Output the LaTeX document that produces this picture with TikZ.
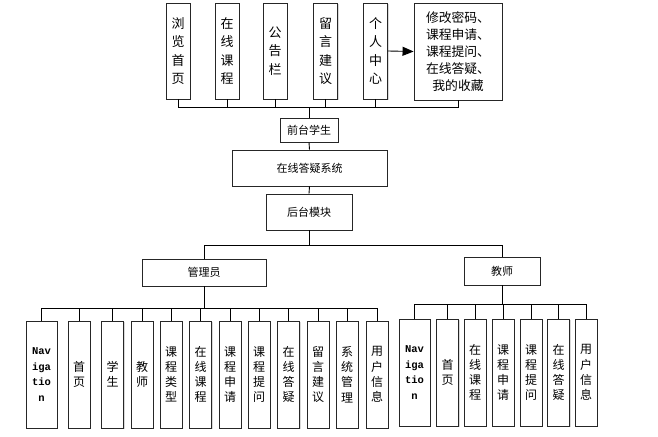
\documentclass[tikz,border=0pt]{standalone}
\usepackage{fontspec}
\setmainfont{Noto Sans CJK SC}
\newfontfamily\navfont{Liberation Mono}
\usetikzlibrary{arrows.meta,shadows}

\begin{document}
\begin{tikzpicture}[x=1pt,y=-1pt,
    box/.style={draw=black!85,line width=0.9pt,fill=white,inner sep=0pt,align=center,
        drop shadow={shadow xshift=1pt,shadow yshift=-1pt,fill=black!25,opacity=0.6}},
    topbox/.style={box,minimum width=24pt,minimum height=96pt,font=\fontsize{13}{18.5}\selectfont},
    midbox/.style={box,font=\fontsize{11}{12}\selectfont},
    leafbox/.style={box,minimum width=22pt,minimum height=107pt,font=\fontsize{12}{15.2}\selectfont},
    navbox/.style={leafbox,minimum width=31pt,font=\navfont\bfseries\fontsize{10.5}{15.5}\selectfont},
    link/.style={line width=0.9pt,black}]

    \useasboundingbox (0,0) rectangle (658,436);

    \node[topbox] (liulan) at (178,51) {浏\\览\\首\\页};
    \node[topbox] (zaixian) at (227,51) {在\\线\\课\\程};
    \node[topbox] (gonggao) at (275,51) {公\\告\\栏};
    \node[topbox] (liuyan) at (325.5,51) {留\\言\\建\\议};
    \node[topbox] (geren) at (375.5,51) {个\\人\\中\\心};
    \node[box,minimum width=88pt,minimum height=97pt,font=\fontsize{12.8}{17}\selectfont] (gerenlist) at (458,51.5)
        {修改密码、\\课程申请、\\课程提问、\\在线答疑、\\我的收藏};
    \draw[link,-{Triangle[length=11pt,width=9pt]}] (geren.east) -- (gerenlist.west);

    \node[midbox,minimum width=58pt,minimum height=24pt] (qiantai) at (309,130) {前台学生};
    \node[midbox,minimum width=155pt,minimum height=36pt] (xitong) at (309.5,168) {在线答疑系统};
    \node[midbox,minimum width=86pt,minimum height=36pt] (houtai) at (309,212) {后台模块};

    \coordinate (topbus) at (309,107);
    \foreach \n in {liulan,zaixian,gonggao,liuyan,geren,gerenlist}
        \draw[link] (\n.south) |- (topbus);
    \draw[link] (topbus) -- (qiantai.north);
    \draw[link] (qiantai.south) -- (xitong.north);
    \draw[link] (xitong.south) -- (houtai.north);

    \node[midbox,minimum width=124pt,minimum height=27pt] (admin) at (204,272.5) {管理员};
    \node[midbox,minimum width=76pt,minimum height=28pt] (teacher) at (502,271) {教师};

    \coordinate (midbus) at (309,245);
    \draw[link] (houtai.south) -- (midbus);
    \draw[link] (midbus) -| (admin.north);
    \draw[link] (midbus) -| (teacher.north);

    \node[navbox] (a1) at (41.5,374.5) {Nav\\iga\\tio\\n};
    \node[leafbox] (a2) at (79,374.5) {首\\页};
    \node[leafbox] (a3) at (112.5,374.5) {学\\生};
    \node[leafbox] (a4) at (142,374.5) {教\\师};
    \node[leafbox] (a5) at (171,374.5) {课\\程\\类\\型};
    \node[leafbox] (a6) at (200.5,374.5) {在\\线\\课\\程};
    \node[leafbox] (a7) at (230,374.5) {课\\程\\申\\请};
    \node[leafbox] (a8) at (259,374.5) {课\\程\\提\\问};
    \node[leafbox] (a9) at (288.5,374.5) {在\\线\\答\\疑};
    \node[leafbox] (a10) at (318,374.5) {留\\言\\建\\议};
    \node[leafbox] (a11) at (347,374.5) {系\\统\\管\\理};
    \node[leafbox] (a12) at (377,374.5) {用\\户\\信\\息};
    \foreach \i in {1,...,12}
        \draw[link] (admin.south) -- ++(0,21.5) -| (a\i.north);

    \node[navbox] (t1) at (414.5,372.5) {Nav\\iga\\tio\\n};
    \node[leafbox] (t2) at (447.5,372.5) {首\\页};
    \node[leafbox] (t3) at (475,372.5) {在\\线\\课\\程};
    \node[leafbox] (t4) at (503,372.5) {课\\程\\申\\请};
    \node[leafbox] (t5) at (531,372.5) {课\\程\\提\\问};
    \node[leafbox] (t6) at (558.5,372.5) {在\\线\\答\\疑};
    \node[leafbox] (t7) at (586,372.5) {用\\户\\信\\息};
    \foreach \i in {1,...,7}
        \draw[link] (teacher.south) -- ++(0,19) -| (t\i.north);

\end{tikzpicture}
\end{document}
